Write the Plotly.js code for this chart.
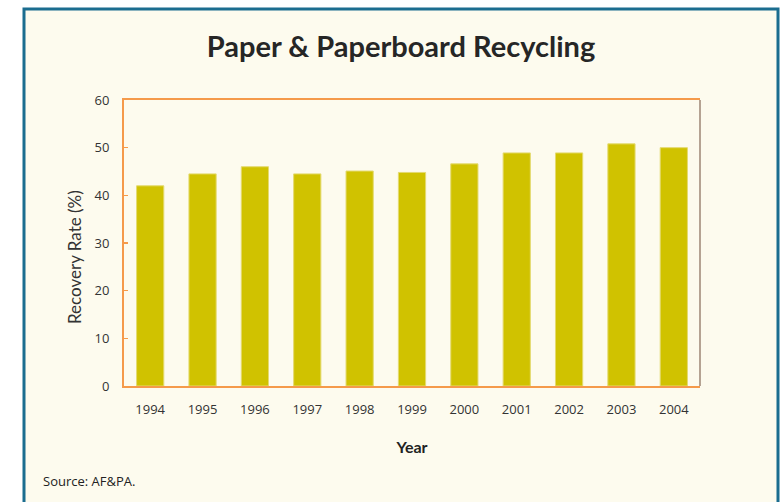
<!DOCTYPE html>
<html>
<head>
<meta charset="utf-8">
<script src="https://cdn.plot.ly/plotly-3.0.1.min.js"></script>
<style>
  html, body { margin: 0; padding: 0; background: #ffffff; }
  #chart { width: 780px; height: 502px; }
</style>
</head>
<body>
<div id="chart"></div>
<script>
// data
var years = ['1994', '1995', '1996', '1997', '1998', '1999', '2000', '2001', '2002', '2003', '2004'];
var recoveryRate = [42.0, 44.5, 46.0, 44.5, 45.1, 44.8, 46.6, 48.9, 48.9, 50.8, 50.0];

var chartTitle = 'Paper & Paperboard Recycling';
var xTitle = 'Year';
var yTitle = 'Recovery Rate (%)';
var sourceNote = 'Source: AF&amp;PA.';

var FONT = '"Open Sans", "DejaVu Sans", sans-serif';
var TFONT = 'Lato, "Open Sans", sans-serif';
var ORANGE = '#f59a4a';

// plot area in pixels, used to place the framing box in paper units
var W = 780, H = 502;
var M = { l: 124, r: 80, t: 100, b: 116 };
var plotW = W - M.l - M.r;
var plotH = H - M.t - M.b;
function px(x) { return (x - M.l) / plotW; }
function py(y) { return (H - M.b - y) / plotH; }

var trace = {
    x: years,
    y: recoveryRate,
    type: 'bar',
    width: 0.52,
    marker: {
        color: '#d0c200',
        line: { color: '#e4da70', width: 1 }
    },
    hoverinfo: 'x+y'
};

var layout = {
    width: W,
    height: H,
    margin: M,
    paper_bgcolor: '#ffffff',
    plot_bgcolor: 'rgba(0,0,0,0)',
    showlegend: false,
    font: { family: FONT, color: '#333333', size: 13 },
    title: {
        text: chartTitle,
        x: 401 / W,
        xanchor: 'center',
        y: 1 - 47 / H,
        yanchor: 'middle',
        font: { family: TFONT, size: 29, weight: 700, color: '#262626' }
    },
    xaxis: {
        type: 'category',
        showline: true,
        mirror: true,
        linecolor: ORANGE,
        linewidth: 2,
        ticks: '',
        showgrid: false,
        zeroline: false,
        ticklabelstandoff: 10,
        tickfont: { family: FONT, size: 13, color: '#333333' },
        title: {
            text: xTitle,
            standoff: 25,
            font: { family: TFONT, size: 16, weight: 700, color: '#222222' }
        },
        automargin: false
    },
    yaxis: {
        range: [0, 60],
        dtick: 10,
        showline: true,
        linecolor: ORANGE,
        linewidth: 2,
        ticks: 'inside',
        ticklen: 4,
        tickwidth: 1.5,
        tickcolor: ORANGE,
        showgrid: false,
        zeroline: false,
        ticklabelstandoff: 10,
        tickfont: { family: FONT, size: 13, color: '#333333' },
        automargin: false
    },
    shapes: [
        {
            // cream panel with teal frame
            type: 'rect',
            xref: 'paper', yref: 'paper',
            x0: px(24), x1: px(778),
            y0: py(515), y1: py(9),
            fillcolor: '#fdfbee',
            line: { color: '#1b6d8f', width: 3 },
            layer: 'below'
        },
        {
            // greyish right edge of the plot frame
            type: 'line',
            xref: 'paper', yref: 'paper',
            x0: 1, x1: 1, y0: 0, y1: 1,
            line: { color: '#b5a393', width: 2 }
        }
    ],
    annotations: [
        {
            // y title sits a bit below the plot centre in the original
            text: yTitle,
            xref: 'paper', yref: 'paper',
            x: px(74), y: py(257),
            xanchor: 'center', yanchor: 'middle',
            textangle: -90,
            showarrow: false,
            font: { family: TFONT, size: 17, color: '#333333' }
        },
        {
            text: sourceNote,
            xref: 'paper', yref: 'paper',
            x: px(41), y: py(481),
            xanchor: 'left', yanchor: 'middle',
            showarrow: false,
            font: { family: FONT, size: 13, color: '#222222' }
        }
    ]
};

Plotly.newPlot('chart', [trace], layout, { displayModeBar: false, staticPlot: true });
</script>
</body>
</html>
